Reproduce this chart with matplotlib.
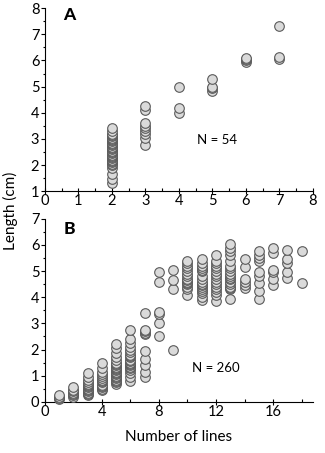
import numpy as np
import matplotlib
matplotlib.use("Agg")
import matplotlib.pyplot as plt
from matplotlib.ticker import MultipleLocator

plt.rcParams["font.family"] = ["Lato", "DejaVu Sans"]

# panel A: length vs number of lines (N = 54)
a_lines = [2] * 31 + [3] * 9 + [4] * 3 + [5] * 4 + [6] * 4 + [7] * 3
a_length = [1.3, 1.45, 1.65, 1.9, 2.0, 2.05, 2.1, 2.15, 2.2, 2.25, 2.3, 2.35,
            2.4, 2.45, 2.5, 2.55, 2.6, 2.65, 2.7, 2.75, 2.8, 2.85, 2.9, 2.95,
            3.0, 3.05, 3.1, 3.15, 3.2, 3.3, 3.4,
            2.75, 3.05, 3.2, 3.3, 3.4, 3.5, 3.6, 4.1, 4.25,
            4.0, 4.2, 5.0,
            4.85, 4.95, 5.0, 5.3,
            5.95, 6.0, 6.05, 6.1,
            6.05, 6.15, 7.3]

# panel B: length vs number of lines (N = 260)
b_columns = {
    1: [0.1, 0.15, 0.2, 0.25],
    2: [0.2, 0.25, 0.3, 0.35, 0.4, 0.45, 0.55],
    3: [0.25, 0.3, 0.35, 0.4, 0.45, 0.5, 0.55, 0.6, 0.65, 0.7, 0.75, 0.85, 0.95, 1.1],
    4: [0.45, 0.5, 0.55, 0.6, 0.65, 0.75, 0.8, 0.85, 0.9, 1.0, 1.05, 1.15, 1.3, 1.5],
    5: [0.7, 0.75, 0.8, 0.85, 0.9, 0.95, 1.0, 1.05, 1.1, 1.15, 1.2, 1.25, 1.3,
        1.35, 1.4, 1.45, 1.5, 1.6, 1.7, 1.85, 2.05, 2.2],
    6: [0.8, 0.95, 1.1, 1.2, 1.3, 1.35, 1.4, 1.45, 1.5, 1.55, 1.6, 1.7, 1.75,
        1.8, 1.9, 2.0, 2.1, 2.25, 2.4, 2.75],
    7: [0.95, 1.15, 1.4, 1.65, 1.95, 2.6, 2.65, 2.7, 2.75, 3.4],
    8: [2.5, 3.0, 3.35, 3.45, 4.6, 4.95],
    9: [2.0, 4.3, 4.65, 5.05],
    10: [4.1, 4.3, 4.4, 4.5, 4.55, 4.6, 4.65, 4.7, 4.8, 4.9, 5.0, 5.1, 5.2,
         5.3, 5.4],
    11: [3.9, 4.0, 4.15, 4.25, 4.3, 4.4, 4.45, 4.5, 4.6, 4.7, 4.8, 5.0, 5.05,
         5.1, 5.2, 5.3, 5.45],
    12: [3.85, 4.1, 4.2, 4.3, 4.4, 4.5, 4.6, 4.7, 4.8, 4.9, 5.0, 5.1, 5.2,
         5.3, 5.4, 5.6],
    13: [3.95, 4.3, 4.35, 4.4, 4.5, 4.6, 4.7, 4.75, 4.8, 4.9, 5.0, 5.1, 5.2,
         5.4, 5.6, 5.75, 5.9, 6.05],
    14: [4.35, 4.45, 4.6, 4.7, 5.15, 5.45],
    15: [3.95, 4.25, 4.55, 4.8, 4.95, 5.4, 5.5, 5.6, 5.75],
    16: [4.45, 4.7, 4.95, 5.05, 5.7, 5.9],
    17: [4.75, 4.95, 5.3, 5.45, 5.8],
    18: [4.55, 5.75],
}
b_lines = [k for k, v in b_columns.items() for _ in v]
b_length = [y for v in b_columns.values() for y in v]

marker_kw = dict(s=48, facecolor="#dadada", edgecolor="#5a5a5a", linewidths=0.8,
                 zorder=3, clip_on=False)

fig = plt.figure(figsize=(3.25, 4.53), dpi=100)
ax_a = fig.add_axes([0.138, 0.578, 0.825, 0.404])
ax_b = fig.add_axes([0.138, 0.113, 0.825, 0.404])

ax_a.scatter(a_lines, a_length, **marker_kw)
ax_a.set_xlim(0, 8)
ax_a.set_ylim(1, 8)
ax_a.xaxis.set_major_locator(MultipleLocator(1))
ax_a.xaxis.set_minor_locator(MultipleLocator(0.5))
ax_a.yaxis.set_major_locator(MultipleLocator(1))
ax_a.yaxis.set_minor_locator(MultipleLocator(0.5))
ax_a.text(0.09, 0.96, "A", transform=ax_a.transAxes, fontsize=12.5,
          fontweight="black", ha="center", va="center")
ax_a.text(5.15, 2.95, "N = 54", fontsize=9.5, ha="center", va="center")

ax_b.scatter(b_lines, b_length, **marker_kw)
ax_b.set_xlim(0, 18.8)
ax_b.set_ylim(0, 7)
ax_b.xaxis.set_major_locator(MultipleLocator(4))
ax_b.xaxis.set_minor_locator(MultipleLocator(2))
ax_b.yaxis.set_major_locator(MultipleLocator(1))
ax_b.yaxis.set_minor_locator(MultipleLocator(0.5))
ax_b.text(0.09, 0.945, "B", transform=ax_b.transAxes, fontsize=12.5,
          fontweight="black", ha="center", va="center")
ax_b.text(12.0, 1.3, "N = 260", fontsize=9.5, ha="center", va="center")
ax_b.set_xlabel("Number of lines", fontsize=11, labelpad=8)

for ax in (ax_a, ax_b):
    for side in ("top", "right"):
        ax.spines[side].set_visible(False)
    for side in ("left", "bottom"):
        ax.spines[side].set_linewidth(0.8)
    ax.tick_params(axis="x", which="major", direction="inout", length=4,
                   width=0.8, labelsize=10.5, pad=0)
    ax.tick_params(axis="x", which="minor", direction="in", length=2, width=0.8)
    ax.tick_params(axis="y", which="major", direction="out", length=3,
                   width=0.8, labelsize=10.5, pad=1)
    ax.tick_params(axis="y", which="minor", direction="out", length=1.5,
                   width=0.8)

fig.text(0.032, 0.535, "Length (cm)", rotation=90, fontsize=11,
         ha="center", va="center")

fig.savefig("out.png", dpi=100)
